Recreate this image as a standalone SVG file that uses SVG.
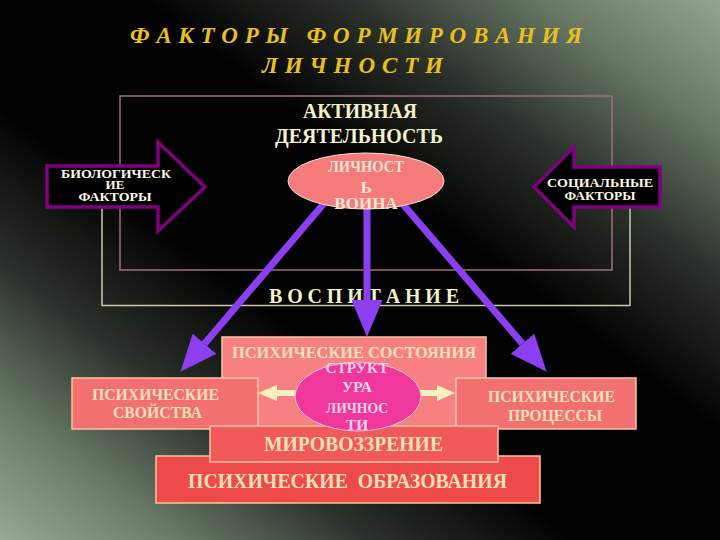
<svg xmlns="http://www.w3.org/2000/svg" width="720" height="540" viewBox="0 0 720 540">
<defs>
<linearGradient id="bg" x1="0" y1="1" x2="1" y2="0">
<stop offset="0" stop-color="#98a894"/>
<stop offset="0.12" stop-color="#6c7c69"/>
<stop offset="0.26" stop-color="#2a302a"/>
<stop offset="0.4" stop-color="#020202"/>
<stop offset="0.6" stop-color="#020202"/>
<stop offset="0.74" stop-color="#2a302a"/>
<stop offset="0.88" stop-color="#6a7a67"/>
<stop offset="1" stop-color="#94a490"/>
</linearGradient>
<marker id="ph" markerUnits="userSpaceOnUse" markerWidth="37" markerHeight="31" viewBox="0 0 37 31" refX="0" refY="15.5" orient="auto">
<path d="M0,0 L37,15.5 L0,31 Z" fill="#8b3ff0"/>
</marker>
<style>
text{font-family:"Liberation Serif","Times New Roman",serif;font-weight:bold;text-anchor:middle}
.title{font-style:italic;font-size:23px;fill:#e8c020}
.lbl{font-size:20px;fill:#f4f0c8}
.arr{font-size:13px;fill:#fffbe8}
.big{fill:#000;stroke:#800080;stroke-width:3.5;stroke-linejoin:miter}
.box{stroke:#f8c4a4;stroke-width:1.5}
.bt{font-size:16px;fill:#f8e0b8}
.bt2{font-size:20px;fill:#f8e0b8}
.purple{stroke:#8b3ff0;stroke-width:7;fill:none;marker-end:url(#ph)}
.cream{fill:#f8f0c0}
.et{font-size:17px;fill:#f8e4d0}
.st{font-size:15.5px;fill:#f8d4e4}
</style>
</defs>
<rect x="0" y="0" width="720" height="540" fill="url(#bg)"/>

<g id="title">
<text class="title" x="356" y="43" textLength="452" xml:space="preserve">Ф А К Т О Р Ы   Ф О Р М И Р О В А Н И Я</text>
<text class="title" x="352.5" y="73" textLength="181">Л И Ч Н О С Т И</text>
</g>

<g id="vospitanie">
<path d="M102,208 V305.5 H630 V208" fill="none" stroke="#cfc6ae" stroke-width="1.5"/>
<text class="lbl" x="364" y="303" font-size="18" textLength="190">В О С П И Т А Н И Е</text>
</g>

<g id="deyatelnost">
<rect x="120" y="96" width="492" height="174" fill="none" stroke="#a46c7c" stroke-width="1.5"/>
<text class="lbl" x="360" y="118" textLength="114" lengthAdjust="spacingAndGlyphs">АКТИВНАЯ</text>
<text class="lbl" x="359" y="143" textLength="168" lengthAdjust="spacingAndGlyphs">ДЕЯТЕЛЬНОСТЬ</text>
</g>

<g id="bio">
<path class="big" d="M47,166 H158 V142 L205,187 L158,231 V207 H47 Z"/>
<text class="arr" x="116" y="178" textLength="110" lengthAdjust="spacingAndGlyphs">БИОЛОГИЧЕСК</text>
<text class="arr" x="115" y="189">ИЕ</text>
<text class="arr" x="115" y="201" textLength="73" lengthAdjust="spacingAndGlyphs">ФАКТОРЫ</text>
</g>

<g id="soc">
<path class="big" d="M660,167 H574 V147 L534,187 L574,227 V207 H660 Z"/>
<text class="arr" x="600" y="187" textLength="106" lengthAdjust="spacingAndGlyphs">СОЦИАЛЬНЫЕ</text>
<text class="arr" x="600" y="200" textLength="71" lengthAdjust="spacingAndGlyphs">ФАКТОРЫ</text>
</g>

<g id="sostoyaniya">
<rect class="box" x="222" y="337" width="264" height="93" fill="#f78080"/>
<text class="bt" x="354" y="358" textLength="244" lengthAdjust="spacingAndGlyphs">ПСИХИЧЕСКИЕ СОСТОЯНИЯ</text>
</g>

<g id="svoistva">
<rect class="box" x="72" y="378" width="186" height="51" fill="#f37070"/>
<text class="bt" x="155.5" y="400" textLength="127" lengthAdjust="spacingAndGlyphs">ПСИХИЧЕСКИЕ</text>
<text class="bt" x="157.5" y="418" textLength="89" lengthAdjust="spacingAndGlyphs">СВОЙСТВА</text>
</g>

<g id="processy">
<rect class="box" x="456" y="378" width="180" height="51" fill="#f37070"/>
<text class="bt" x="551.5" y="402" textLength="127" lengthAdjust="spacingAndGlyphs">ПСИХИЧЕСКИЕ</text>
<text class="bt" x="555" y="421" textLength="94" lengthAdjust="spacingAndGlyphs">ПРОЦЕССЫ</text>
</g>

<g id="obrazovaniya">
<rect class="box" x="156" y="456" width="384" height="47" fill="#ef4a4a"/>
<text class="bt2" x="347.5" y="488" textLength="319" lengthAdjust="spacingAndGlyphs" xml:space="preserve">ПСИХИЧЕСКИЕ  ОБРАЗОВАНИЯ</text>
</g>

<g id="mirovozzrenie">
<rect class="box" x="210" y="426" width="288" height="36" fill="#f25a5a"/>
<text class="bt2" x="353.5" y="451" font-size="19" textLength="179" lengthAdjust="spacingAndGlyphs">МИРОВОЗЗРЕНИЕ</text>
</g>

<g id="connectors">
<line class="purple" x1="326" y1="201" x2="204.5" y2="343.7"/>
<line class="purple" x1="367" y1="205" x2="367" y2="300"/>
<line class="purple" x1="401" y1="202" x2="522.5" y2="343.7"/>
<path class="cream" d="M258,393 L277,385 V390 H297 V396 H277 V401 Z"/>
<path class="cream" d="M455,393 L437,385 V390 H419 V396 H437 V401 Z"/>
</g>

<g id="lichnost">
<ellipse cx="366" cy="181" rx="78" ry="28" fill="#f57a7a" stroke="#f4e0dc" stroke-width="1"/>
<text class="et" x="366" y="172" textLength="76" lengthAdjust="spacingAndGlyphs">ЛИЧНОСТ</text>
<text class="et" x="366" y="193">Ь</text>
<text class="et" x="366" y="209">ВОИНА</text>
</g>

<g id="struktura">
<ellipse cx="358" cy="396.5" rx="63" ry="34.5" fill="#f0379c" stroke="#f8c4dc" stroke-width="1"/>
<text class="st" x="357" y="373" textLength="63" lengthAdjust="spacingAndGlyphs">СТРУКТ</text>
<text class="st" x="357" y="392">УРА</text>
<text class="st" x="357" y="413" textLength="62" lengthAdjust="spacingAndGlyphs">ЛИЧНОС</text>
<text class="st" x="357" y="430">ТИ</text>
</g>
</svg>
